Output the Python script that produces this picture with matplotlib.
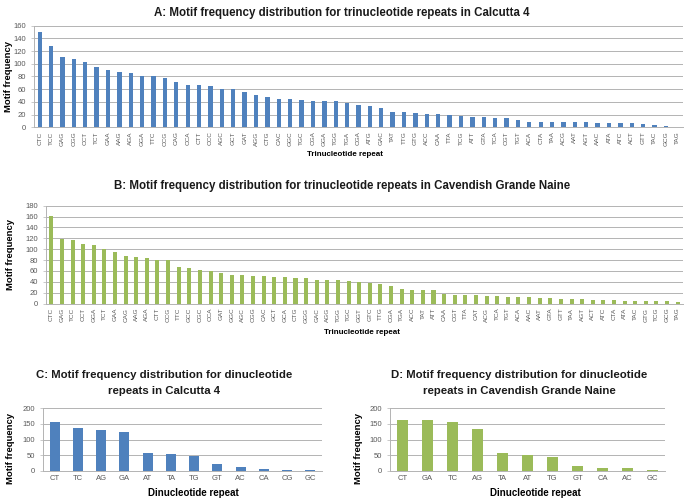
import numpy as np
import matplotlib.pyplot as plt

plt.rcParams['font.family'] = ['Liberation Sans', 'DejaVu Sans']

W, H = 685, 501
BLUE = '#4F81BD'
GREEN = '#9BBB59'
GRID = '#B3B3B3'
TICKC = '#595959'

# A: trinucleotide repeats, Calcutta 4
tri_a_labels = ['CTC', 'TCC', 'GAG', 'CGG', 'CCT', 'TCT', 'GAA', 'AAG', 'AGA', 'GGA',
                'TTC', 'CCG', 'CAG', 'CCA', 'CTT', 'CCC', 'AGC', 'GCT', 'GAT', 'AGG',
                'CTG', 'CAC', 'GGC', 'TGC', 'CGA', 'GGA', 'TGG', 'TGA', 'CGA', 'ATG',
                'GAC', 'TAT', 'TTG', 'GTG', 'ACC', 'CAA', 'TTA', 'TCG', 'ATT', 'GTA',
                'TCA', 'CGT', 'TGT', 'ACA', 'CTA', 'TAA', 'ACG', 'AAT', 'AGT', 'AAC',
                'ATA', 'ATC', 'ACT', 'GTT', 'TAC', 'GCG', 'TAG']
tri_a_values = [150, 128, 111, 107, 103, 95, 90, 87, 85, 80,
                80, 77, 72, 67, 66, 65, 60, 60, 56, 51,
                48, 44, 44, 43, 42, 42, 41, 38, 35, 33,
                30, 24, 24, 22, 21, 21, 19, 18, 16, 16,
                15, 14, 11, 9, 9, 9, 8, 8, 8, 6,
                6, 6, 6, 5, 3, 2, 1]

# B: trinucleotide repeats, Cavendish Grande Naine
tri_b_labels = ['CTC', 'GAG', 'TCC', 'CCT', 'GGA', 'TCT', 'GAA', 'CAG', 'AAG', 'AGA',
                'CTT', 'CCG', 'TTC', 'GCC', 'CGC', 'CCA', 'GAT', 'GGC', 'AGC', 'CGG',
                'CAC', 'GCT', 'GCA', 'CTG', 'GGG', 'GAC', 'AGG', 'TGG', 'TGC', 'GGT',
                'GTC', 'TTG', 'CGA', 'TGA', 'ACC', 'TAT', 'ATT', 'CAA', 'CGT', 'TTA',
                'CAT', 'ACG', 'TCA', 'TGT', 'ACA', 'AAC', 'AAT', 'GTA', 'GTT', 'TAA',
                'AGT', 'ACT', 'ATC', 'CTA', 'ATA', 'TAC', 'GTG', 'TCG', 'GCG', 'TAG']
tri_b_values = [161, 118, 117, 109, 107, 100, 95, 87, 85, 83,
                80, 80, 67, 66, 61, 60, 56, 53, 53, 50,
                50, 49, 48, 47, 47, 44, 43, 43, 42, 39,
                37, 36, 33, 26, 25, 24, 24, 18, 15, 15,
                15, 14, 14, 12, 12, 12, 10, 10, 9, 8,
                8, 7, 7, 6, 5, 5, 4, 4, 4, 3]

# C / D: dinucleotide repeats
di_c_labels = ['CT', 'TC', 'AG', 'GA', 'AT', 'TA', 'TG', 'GT', 'AC', 'CA', 'CG', 'GC']
di_c_values = [157, 137, 130, 123, 56, 53, 47, 22, 12, 6, 2, 2]
di_d_labels = ['CT', 'GA', 'TC', 'AG', 'TA', 'AT', 'TG', 'GT', 'CA', 'AC', 'GC']
di_d_values = [162, 161, 156, 134, 57, 50, 45, 16, 10, 9, 3]


def px_axes(fig, left, top, right, bottom):
    return fig.add_axes([left / W, 1 - bottom / H, (right - left) / W, (bottom - top) / H])


def style(ax, labels, values, color, width, ymax, ystep, xfs, rot):
    x = np.arange(len(labels))
    ax.bar(x, values, width=width, color=color, zorder=3)
    ax.set_xlim(-0.5, len(labels) - 0.5)
    ax.set_ylim(0, ymax)
    ax.set_yticks(np.arange(0, ymax + 1, ystep))
    ax.set_xticks(x)
    ax.set_xticklabels(labels, rotation=rot, fontsize=xfs, color=TICKC)
    ax.tick_params(axis='x', length=0, pad=3)
    ax.tick_params(axis='y', labelsize=5.5, colors=TICKC, length=2, width=0.5, color=GRID)
    ax.grid(axis='y', color=GRID, lw=0.7, zorder=0)
    for s in ['top', 'right']:
        ax.spines[s].set_visible(False)
    for s in ['left', 'bottom']:
        ax.spines[s].set_color(GRID)
        ax.spines[s].set_linewidth(0.7)


fig = plt.figure(figsize=(W / 100, H / 100), dpi=100)

def ftext(x, y, s, **kw):
    fig.text(x / W, 1 - y / H, s, ha='center', va='center', **kw)

# panel A
axa = px_axes(fig, 34, 25.7, 683, 127.3)
style(axa, tri_a_labels, tri_a_values, BLUE, 0.38, 160, 20, 4.6, 90)
ftext(342, 13, 'A: Motif frequency distribution for trinucleotide repeats in Calcutta 4',
      fontsize=8.3, fontweight='bold', color='#1a1a1a')
ftext(9, 76, 'Motif frequency', rotation=90, fontsize=6.8, fontweight='bold')
ftext(345, 155, 'Trinucleotide repeat', fontsize=5.8, fontweight='bold')

# panel B
axb = px_axes(fig, 46, 205.7, 683, 303.5)
style(axb, tri_b_labels, tri_b_values, GREEN, 0.38, 180, 20, 4.6, 90)
ftext(342, 186, 'B: Motif frequency distribution for trinucleotide repeats in Cavendish Grande Naine',
      fontsize=8.3, fontweight='bold', color='#1a1a1a')
ftext(11, 254, 'Motif frequency', rotation=90, fontsize=6.8, fontweight='bold')
ftext(362, 332, 'Trinucleotide repeat', fontsize=5.8, fontweight='bold')

# panel C
axc = px_axes(fig, 43, 408.3, 322, 470.7)
style(axc, di_c_labels, di_c_values, BLUE, 0.42, 200, 50, 5.5, 0)
ftext(164, 375, 'C: Motif frequency distribution for dinucleotide', fontsize=8.2, fontweight='bold',
      color='#1a1a1a')
ftext(164, 391, 'repeats in Calcutta 4', fontsize=8.2, fontweight='bold', color='#1a1a1a')
ftext(11, 448, 'Motif frequency', rotation=90, fontsize=6.8, fontweight='bold')
ftext(193, 493, 'Dinucleotide repeat', fontsize=7, fontweight='bold')

# panel D
axd = px_axes(fig, 390, 408.3, 665, 470.7)
style(axd, di_d_labels, di_d_values, GREEN, 0.42, 200, 50, 5.5, 0)
ftext(519, 375, 'D: Motif frequency distribution for dinucleotide', fontsize=8.2, fontweight='bold',
      color='#1a1a1a')
ftext(519, 391, 'repeats in Cavendish Grande Naine', fontsize=8.2, fontweight='bold', color='#1a1a1a')
ftext(358, 448, 'Motif frequency', rotation=90, fontsize=6.8, fontweight='bold')
ftext(535, 493, 'Dinucleotide repeat', fontsize=7, fontweight='bold')

fig.savefig('out.png', dpi=100)
